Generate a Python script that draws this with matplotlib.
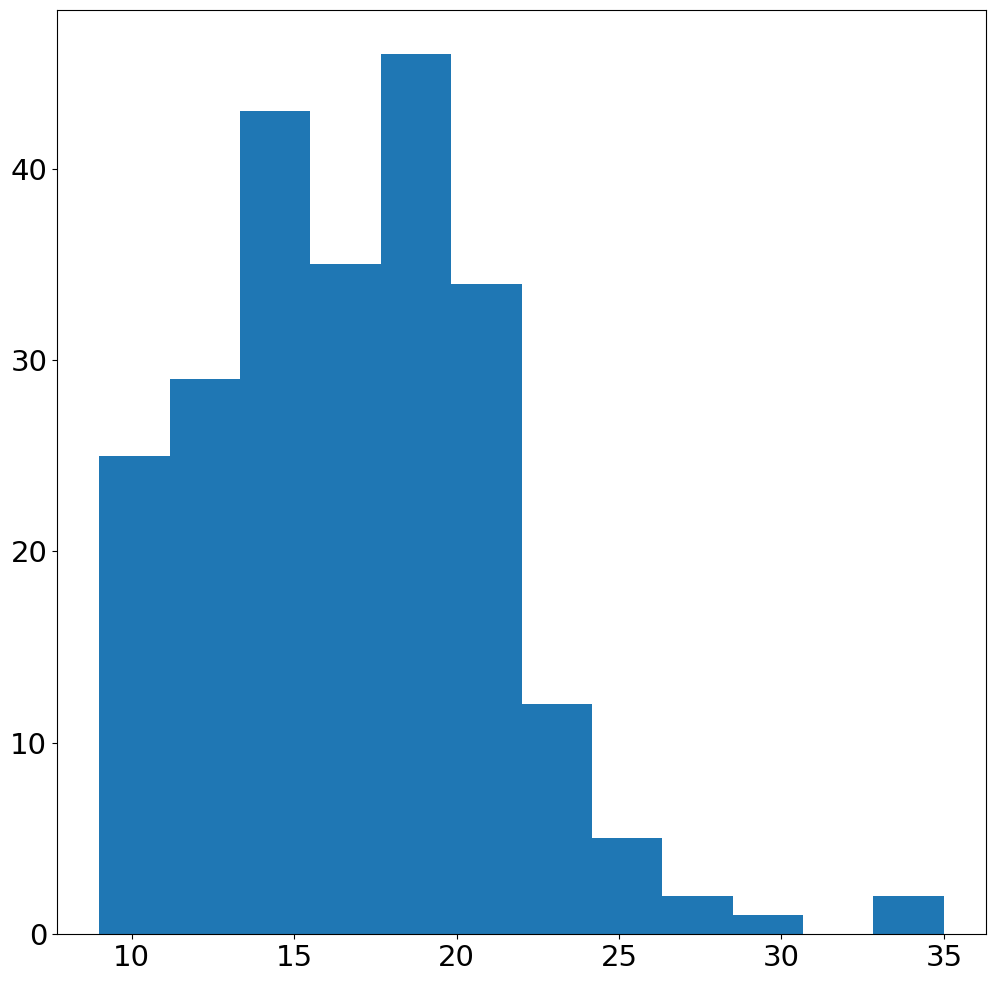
import numpy as np
import matplotlib
matplotlib.use('Agg')
import matplotlib.pyplot as plt

# histogram counts
counts = [25, 29, 43, 35, 46, 34, 12, 5, 2, 1, 0, 2]
x_min, x_max = 9, 35
edges = np.linspace(x_min, x_max, len(counts) + 1)
centers = (edges[:-1] + edges[1:]) / 2

fig, ax = plt.subplots(figsize=(9.95, 9.81), dpi=100)
ax.hist(centers, bins=edges, weights=counts, color='#1f77b4')
ax.tick_params(labelsize=21)
fig.subplots_adjust(left=0.0573, right=0.991, top=0.9898, bottom=0.0479)
fig.savefig('out.png')
